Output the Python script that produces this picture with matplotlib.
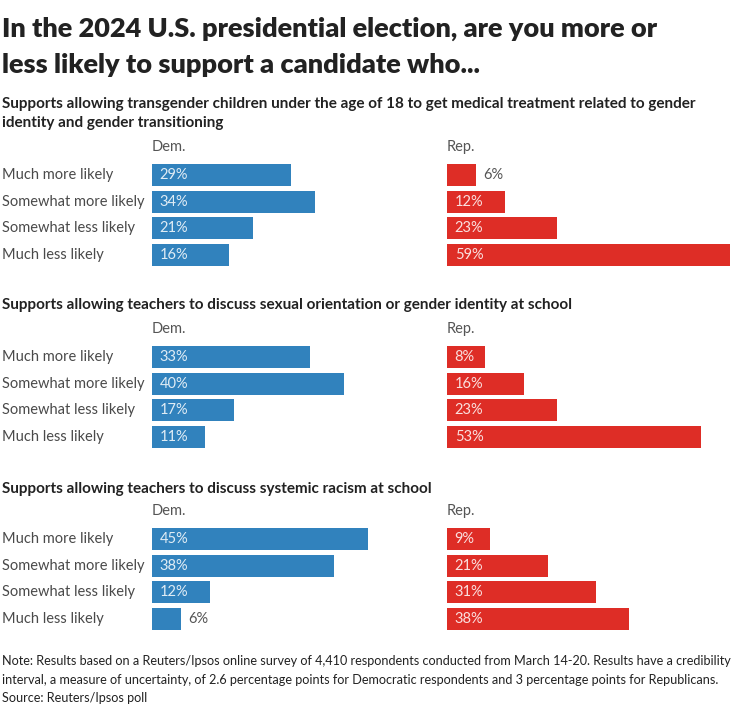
import matplotlib
matplotlib.use("Agg")
import matplotlib.pyplot as plt
from matplotlib.transforms import blended_transform_factory

plt.rcParams['font.family'] = ['Lato', 'DejaVu Sans']

W, H = 736, 708

title = "In the 2024 U.S. presidential election, are you more or\nless likely to support a candidate who..."
questions = [
    "Supports allowing transgender children under the age of 18 to get medical treatment related to gender\nidentity and gender transitioning",
    "Supports allowing teachers to discuss sexual orientation or gender identity at school",
    "Supports allowing teachers to discuss systemic racism at school",
]
answers = ["Much more likely", "Somewhat more likely", "Somewhat less likely", "Much less likely"]
dem = [
    [29, 34, 21, 16],
    [33, 40, 17, 11],
    [45, 38, 12, 6],
]
rep = [
    [6, 12, 23, 59],
    [8, 16, 23, 53],
    [9, 21, 31, 38],
]
parties = ["Dem.", "Rep."]
colors = ["#3182bd", "#de2d26"]
note = ("Note: Results based on a Reuters/Ipsos online survey of 4,410 respondents conducted from March 14-20. Results have a credibility\n"
        "interval, a measure of uncertainty, of 2.6 percentage points for Democratic respondents and 3 percentage points for Republicans.\n"
        "Source: Reuters/Ipsos poll")

fig = plt.figure(figsize=(W / 100, H / 100), dpi=100)
fig.patch.set_facecolor("white")

fig.text(2 / W, 1 - 17 / H, title, fontsize=19.5, fontweight="heavy", color="#222222",
         va="top", ha="left", linespacing=1.6)

px_per_pct = 4.8
xmax = 60
row_h = 26.7
section_step = 182
first_row_top = 161.6
heading_y = [97, 298, 482]
axes_left = [152, 447]

for s in range(3):
    fig.text(2 / W, 1 - heading_y[s] / H, questions[s], fontsize=11, fontweight="bold",
             color="#222222", va="top", ha="left", linespacing=1.5)
    top = first_row_top + s * section_step
    for p, vals in enumerate([dem[s], rep[s]]):
        ax = fig.add_axes([axes_left[p] / W, 1 - (top + 4 * row_h) / H,
                           xmax * px_per_pct / W, 4 * row_h / H])
        ax.barh(range(4), vals, height=0.82, color=colors[p])
        ax.set_xlim(0, xmax)
        ax.set_ylim(3.5, -0.5)
        ax.axis("off")
        for i, v in enumerate(vals):
            if v >= 8:
                ax.text(1.6, i, f"{v}%", va="center", ha="left", fontsize=10.5,
                        color="white", alpha=0.85)
            else:
                ax.text(v + 1.6, i, f"{v}%", va="center", ha="left", fontsize=10.5,
                        color="#555555")
        ax.text(0, -0.5 - 0.55, parties[p], va="center", ha="left", fontsize=10.5,
                color="#555555", clip_on=False)
        if p == 0:
            tr = blended_transform_factory(fig.transFigure, ax.transData)
            for i, a in enumerate(answers):
                ax.text(2 / W, i, a, transform=tr, va="center", ha="left",
                        fontsize=10.5, color="#4a4a4a")

fig.text(2 / W, 1 - 655 / H, note, fontsize=9.1, color="#222222", va="top", ha="left",
         linespacing=1.65)

fig.savefig("out.png", dpi=100)
